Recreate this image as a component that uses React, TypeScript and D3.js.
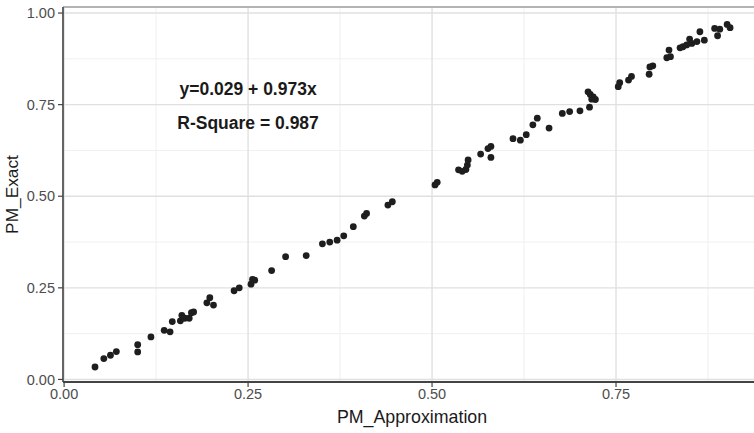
import React from "react";
import * as d3 from "d3";

const pmApprox = [
  0.042, 0.054, 0.063, 0.071, 0.100, 0.100, 0.118, 0.136, 0.144, 0.147,
  0.158, 0.160, 0.164, 0.170, 0.173, 0.176, 0.194, 0.198, 0.203, 0.231,
  0.238, 0.254, 0.256, 0.259, 0.282, 0.301, 0.329, 0.351, 0.361, 0.371,
  0.380, 0.393, 0.408, 0.411, 0.440, 0.446, 0.504, 0.507, 0.536, 0.541,
  0.546, 0.548, 0.549, 0.566, 0.576, 0.580, 0.580, 0.610, 0.620, 0.628,
  0.637, 0.643, 0.659, 0.677, 0.687, 0.701, 0.714, 0.712, 0.715, 0.719,
  0.722, 0.717, 0.753, 0.755, 0.767, 0.771, 0.795, 0.800, 0.796, 0.819,
  0.822, 0.824, 0.837, 0.841, 0.846, 0.850, 0.853, 0.860, 0.864, 0.870,
  0.884, 0.888, 0.891, 0.901, 0.905,
];
const pmExact = [
  0.034, 0.057, 0.066, 0.076, 0.095, 0.075, 0.116, 0.134, 0.130, 0.158,
  0.160, 0.175, 0.167, 0.167, 0.182, 0.184, 0.209, 0.223, 0.203, 0.242,
  0.250, 0.260, 0.273, 0.271, 0.297, 0.335, 0.338, 0.370, 0.375, 0.380,
  0.392, 0.417, 0.446, 0.453, 0.476, 0.485, 0.531, 0.538, 0.572, 0.568,
  0.573, 0.585, 0.599, 0.615, 0.630, 0.636, 0.606, 0.657, 0.653, 0.668,
  0.695, 0.713, 0.686, 0.726, 0.731, 0.733, 0.743, 0.785, 0.778, 0.771,
  0.764, 0.765, 0.799, 0.810, 0.817, 0.827, 0.833, 0.856, 0.853, 0.878,
  0.899, 0.881, 0.905, 0.908, 0.913, 0.929, 0.917, 0.922, 0.949, 0.926,
  0.958, 0.938, 0.956, 0.969, 0.960,
];
const majorTicks = [0, 0.25, 0.5, 0.75, 1.0];
const minorTicks = [0.125, 0.375, 0.625, 0.875];
const tickLabels = ["0.00", "0.25", "0.50", "0.75", "1.00"];
const xTitle = "PM_Approximation";
const yTitle = "PM_Exact";
const annotations = ["y=0.029 + 0.973x", "R-Square = 0.987"];

const W = 754;
const H = 433;
const panel = { left: 63, top: 7, right: 754, bottom: 382 };

export default function App() {
  const x = d3.scaleLinear().domain([-0.0015, 0.9375]).range([panel.left, panel.right]);
  const y = d3.scaleLinear().domain([-0.007, 1.0165]).range([panel.bottom, panel.top]);
  const font = "'Liberation Sans', Arial, Helvetica, sans-serif";
  const xMaj = majorTicks.filter((t) => x(t) <= panel.right);
  const xMin = minorTicks.filter((t) => x(t) <= panel.right);

  return (
    <svg
      width={W}
      height={H}
      style={{ position: "absolute", left: 0, top: 0, background: "#fff" }}
      fontFamily={font}
    >
      <rect x={0} y={0} width={W} height={H} fill="#fff" />
      {xMin.map((t) => (
        <line key={"xm" + t} x1={x(t)} x2={x(t)} y1={panel.top} y2={panel.bottom} stroke="#f0f0f0" strokeWidth={1} />
      ))}
      {minorTicks.map((t) => (
        <line key={"ym" + t} x1={panel.left} x2={panel.right} y1={y(t)} y2={y(t)} stroke="#f0f0f0" strokeWidth={1} />
      ))}
      {xMaj.map((t) => (
        <line key={"xg" + t} x1={x(t)} x2={x(t)} y1={panel.top} y2={panel.bottom} stroke="#e0e0e0" strokeWidth={1.4} />
      ))}
      {majorTicks.map((t) => (
        <line key={"yg" + t} x1={panel.left} x2={panel.right} y1={y(t)} y2={y(t)} stroke="#e0e0e0" strokeWidth={1.4} />
      ))}
      <line x1={panel.left} x2={panel.right} y1={panel.top} y2={panel.top} stroke="#9a9a9a" strokeWidth={1.5} />
      {pmApprox.map((v, i) => (
        <circle key={i} cx={x(v)} cy={y(pmExact[i])} r={3.4} fill="#1e1e1e" />
      ))}
      <line x1={panel.left} x2={panel.left} y1={panel.top} y2={panel.bottom} stroke="#555" strokeWidth={1.8} />
      <line x1={panel.left} x2={panel.right} y1={panel.bottom} y2={panel.bottom} stroke="#444" strokeWidth={1.8} />
      {majorTicks.map((t, i) => (
        <g key={"yt" + t}>
          <line x1={panel.left - 5} x2={panel.left} y1={y(t)} y2={y(t)} stroke="#444" strokeWidth={1.2} />
          <text x={panel.left - 8} y={y(t)} dy="0.36em" textAnchor="end" fontSize={14.5} fill="#4d4d4d">
            {tickLabels[i]}
          </text>
        </g>
      ))}
      {majorTicks.map((t, i) =>
        x(t) <= panel.right - 10 ? (
          <g key={"xt" + t}>
            <line x1={x(t)} x2={x(t)} y1={panel.bottom} y2={panel.bottom + 5} stroke="#444" strokeWidth={1.2} />
            <text x={x(t)} y={panel.bottom + 17} textAnchor="middle" fontSize={14.5} fill="#4d4d4d">
              {tickLabels[i]}
            </text>
          </g>
        ) : null
      )}
      <text x={(x(0) + 760) / 2} y={422.5} textAnchor="middle" fontSize={17.8} fill="#1a1a1a">
        {xTitle}
      </text>
      <text
        transform={`translate(18, ${(panel.top + panel.bottom) / 2}) rotate(-90)`}
        textAnchor="middle"
        fontSize={17.3}
        fill="#1a1a1a"
      >
        {yTitle}
      </text>
      <text x={x(0.25)} y={95} textAnchor="middle" fontSize={17.5} fontWeight="bold" fill="#1a1a1a">
        {annotations[0]}
      </text>
      <text x={x(0.25)} y={128.5} textAnchor="middle" fontSize={17.5} fontWeight="bold" fill="#1a1a1a">
        {annotations[1]}
      </text>
    </svg>
  );
}
